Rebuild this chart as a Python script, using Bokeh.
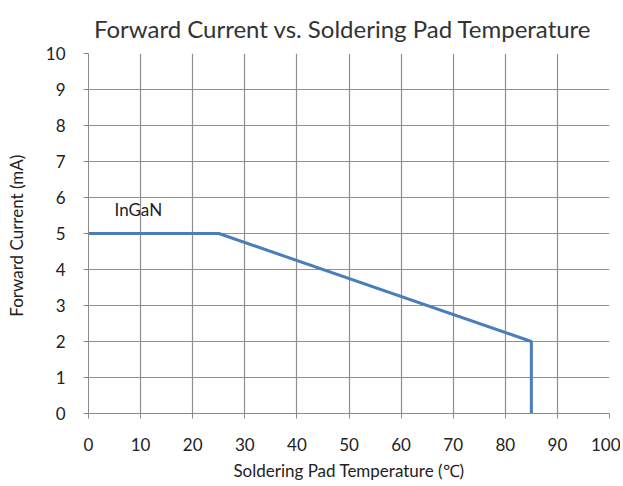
from bokeh.plotting import figure
from bokeh.models import Range1d, FixedTicker, Label
from bokeh.embed import file_html
from bokeh.resources import INLINE

temp = [0, 25, 85, 85]
current = [5, 5, 2, 0]
x_ticks = list(range(0, 101, 10))
y_ticks = list(range(0, 11, 1))
series_label = "InGaN"

p = figure(width=620, height=484, output_backend="svg", toolbar_location=None,
           x_range=Range1d(0, 100), y_range=Range1d(0, 10),
           min_border_left=88, min_border_right=11, min_border_top=53, min_border_bottom=71,
           title="Forward Current  vs. Soldering  Pad Temperature")
p.title.align = "center"
p.title.text_font = "Lato"
p.title.text_font_size = "24px"
p.title.text_font_style = "normal"
p.title.text_color = "#333333"
p.title.standoff = 22
p.outline_line_color = None

for ax in (p.xaxis[0], p.yaxis[0]):
    ax.axis_line_color = "#8a8a8a"
    ax.major_tick_line_color = "#8a8a8a"
    ax.major_tick_out = 5
    ax.major_tick_in = 0
    ax.minor_tick_line_color = None
    ax.major_label_text_font = "Lato"
    ax.major_label_text_font_size = "17px"
    ax.major_label_text_color = "#222222"
    ax.axis_label_text_font = "Lato"
    ax.axis_label_text_font_size = "17px"
    ax.axis_label_text_font_style = "normal"
    ax.axis_label_text_color = "#222222"

p.xaxis.ticker = FixedTicker(ticks=x_ticks)
p.yaxis.ticker = FixedTicker(ticks=y_ticks)
p.xaxis.axis_label = "Soldering Pad Temperature (℃)"
p.yaxis.axis_label = "Forward Current  (mA)"
p.xaxis.major_label_standoff = 19
p.xaxis.axis_label_standoff = 6
p.yaxis.major_label_standoff = 18
p.yaxis.axis_label_standoff = 16

p.xgrid.ticker = FixedTicker(ticks=x_ticks)
p.ygrid.ticker = FixedTicker(ticks=y_ticks)
for g in (p.xgrid[0], p.ygrid[0]):
    g.grid_line_color = "#8f8f8f"
    g.grid_line_width = 1.2

p.line(temp, current, line_color="#4a7ebb", line_width=3)

p.add_layout(Label(x=5.0, y=5.67, text=series_label, text_font="Lato",
                   text_font_size="17px", text_color="#222222",
                   text_baseline="middle"))

open("out.html", "w").write(file_html(p, INLINE))
